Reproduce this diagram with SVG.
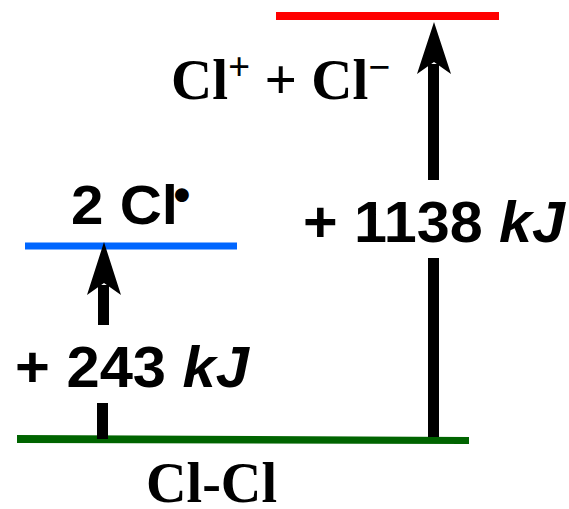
<svg xmlns="http://www.w3.org/2000/svg" width="569" height="509" viewBox="0 0 569 509">
<style>
.sans{font-family:"Liberation Sans",Arial,sans-serif;font-weight:bold;fill:#000}
.serif{font-family:"Liberation Serif","Times New Roman",serif;font-weight:bold;fill:#000}
.it{font-style:italic}
.shaft{stroke:#000;stroke-width:11;fill:none}
.head{fill:#000}
</style>
<rect width="569" height="509" fill="#fff"/>
<g id="level-clcl">
<polygon points="17,435 469,437 469,444 17,443" fill="#006400"/>
<text class="serif" x="146" y="502" font-size="56" textLength="131" lengthAdjust="spacingAndGlyphs">Cl-Cl</text>
</g>
<g id="level-2cl">
<line x1="25" y1="246" x2="237" y2="246" stroke="#0066ff" stroke-width="7"/>
<text class="sans" x="71" y="224" font-size="55" textLength="107" lengthAdjust="spacingAndGlyphs">2 Cl</text>
<text class="sans" x="182" y="211" font-size="48" text-anchor="middle">•</text>
</g>
<g id="level-ions">
<line x1="276" y1="16" x2="499" y2="16" stroke="#ff0000" stroke-width="8"/>
<text class="serif" x="171" y="99" font-size="57">Cl<tspan font-size="39" dy="-19">+</tspan><tspan dy="19"> + Cl</tspan><tspan font-size="39" dy="-19">−</tspan></text>
</g>
<g id="connectors">
<g id="arrow-243">
<line class="shaft" x1="103.5" y1="325" x2="103.5" y2="285"/>
<line class="shaft" x1="102.5" y1="403" x2="102.5" y2="439"/>
<polygon class="head" points="104,242 121,295 104,283 87,295"/>
<text class="sans" x="15" y="387" font-size="57" textLength="234" lengthAdjust="spacingAndGlyphs">+ 243 <tspan class="it">kJ</tspan></text>
</g>
<g id="arrow-1138">
<line class="shaft" x1="433.5" y1="180" x2="433.5" y2="64"/>
<line class="shaft" x1="433.5" y1="258" x2="433.5" y2="437"/>
<polygon class="head" points="434,22 451,74 434,62 417,74"/>
<text class="sans" x="303" y="242" font-size="57" textLength="262" lengthAdjust="spacingAndGlyphs">+ 1138 <tspan class="it">kJ</tspan></text>
</g>
</g>
</svg>
